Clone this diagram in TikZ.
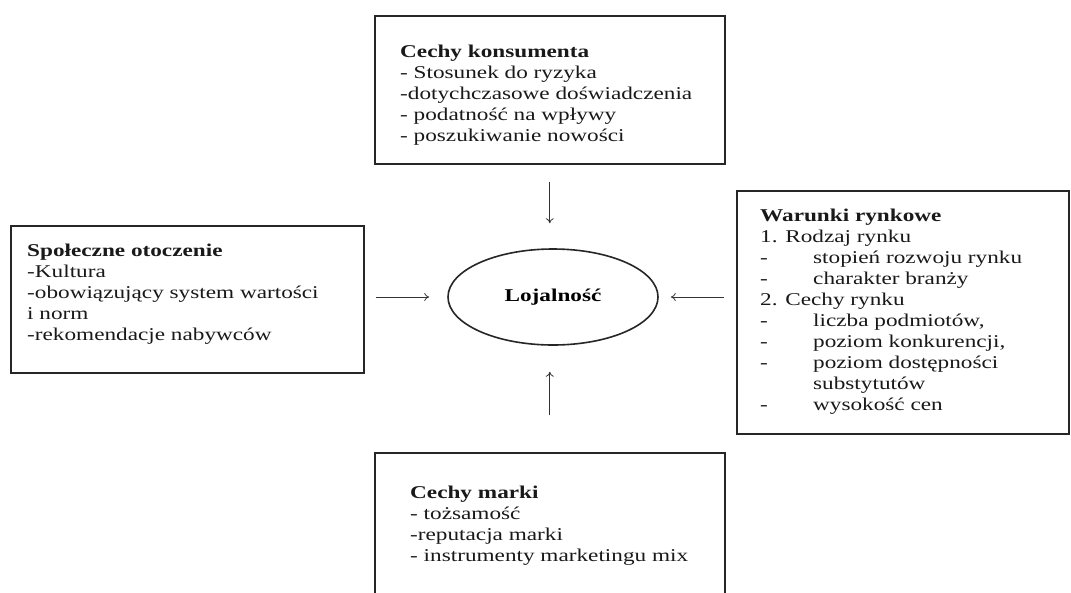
\documentclass[tikz,border=0pt]{standalone}
\usepackage{fontspec}
\setmainfont[FakeStretch=1.29]{Liberation Serif}
\usetikzlibrary{arrows.meta,shapes.geometric}
\begin{document}
\begin{tikzpicture}[x=1pt,y=-1pt,
  box/.style={draw=black!85, line width=1.6pt, inner sep=0pt, anchor=north west},
  txt/.style={inner sep=0pt, anchor=base west, text=black!90, font=\fontsize{18}{21}\selectfont},
  conn/.style={draw=black!80, line width=0.8pt, -{To[length=5pt,width=8pt]}},
  ind/.style={}]
\useasboundingbox (0,0) rectangle (1071,592);
\fill[white] (0,0) rectangle (1071,592);
% boxes
\node[box, minimum width=350pt, minimum height=148pt] (cons) at (374,15) {};
\node[box, minimum width=353pt, minimum height=147pt] (soc) at (10,225) {};
\node[box, minimum width=332pt, minimum height=243pt] (rynek) at (736,190) {};
\node[box, minimum width=350pt, minimum height=160pt] (marka) at (374,452) {};
% texts
\node[txt] (const) at (400,57) {\parbox[t]{320pt}{\raggedright
  \textbf{Cechy konsumenta}\\
  - Stosunek do ryzyka\\
  -dotychczasowe doświadczenia\\
  - podatność na wpływy\\
  - poszukiwanie nowości}};
\node[txt] (soct) at (27,256) {\parbox[t]{330pt}{\raggedright
  \textbf{Społeczne otoczenie}\\
  -Kultura\\
  -obowiązujący system wartości\\
  i norm\\
  -rekomendacje nabywców}};
\node[txt] (rynekt) at (760,221) {\parbox[t]{305pt}{\raggedright
  \textbf{Warunki rynkowe}\\
  1. Rodzaj rynku\\
  \makebox[53pt][l]{-}stopień rozwoju rynku\\
  \makebox[53pt][l]{-}charakter branży\\
  2. Cechy rynku\\
  \makebox[53pt][l]{-}liczba podmiotów,\\
  \makebox[53pt][l]{-}poziom konkurencji,\\
  \makebox[53pt][l]{-}poziom dostępności\\
  \hspace*{53pt}substytutów\\
  \makebox[53pt][l]{-}wysokość cen}};
\node[txt] (markat) at (410,498) {\parbox[t]{310pt}{\raggedright
  \textbf{Cechy marki}\\
  - tożsamość\\
  -reputacja marki\\
  - instrumenty marketingu mix}};
% centre
\node[draw=black!85, line width=1.6pt, ellipse, minimum width=210pt, minimum height=96pt,
      font=\fontsize{18}{21}\selectfont\bfseries] (loj) at (553,297) {Lojalność};
% connectors
\draw[conn, shorten <=17pt, shorten >=25pt] (cons.south) -- (cons.south |- loj.north);
\draw[conn, shorten <=11pt, shorten >=18pt] (soc.east |- loj.west) -- (loj.west);
\draw[conn, shorten <=12pt, shorten >=12pt] (rynek.west |- loj.east) -- (loj.east);
\draw[conn, shorten <=37pt, shorten >=26pt] (marka.north) -- (marka.north |- loj.south);
\end{tikzpicture}
\end{document}
